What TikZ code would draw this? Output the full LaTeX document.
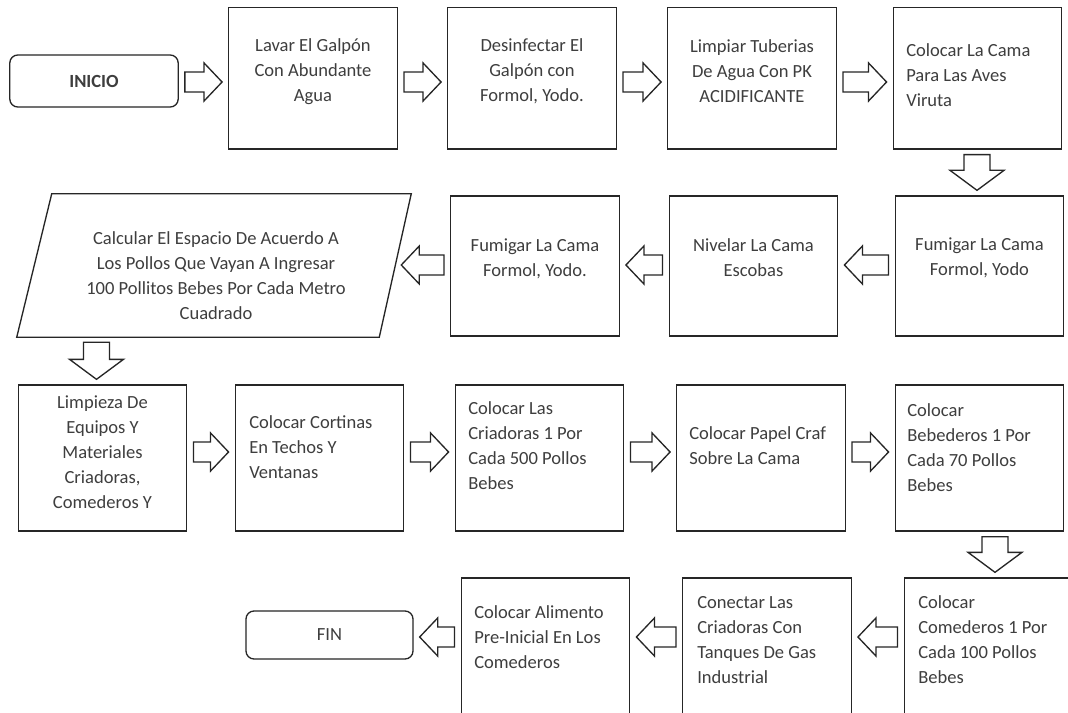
\documentclass[tikz,border=0pt]{standalone}
\usepackage{fontspec}
\setmainfont{Carlito}
\usetikzlibrary{calc}
\definecolor{ink}{RGB}{38,38,38}
\definecolor{txtc}{RGB}{62,62,62}
\newcommand\myfirst{\rule{0pt}{14pt}}
% right-pointing block arrow from node #1 to node #2 at row y #3
\newcommand\bxR[3]{\draw[blk] let \p1=($(#1.east)+(6,0)$), \p2=($(#2.west)+(-6,0)$), \p3=(0,#3) in
  (\x1,\y3+7.5pt) -- (\x2-13.5pt,\y3+7.5pt) -- (\x2-13.5pt,\y3+14.25pt) -- (\x2,\y3)
  -- (\x2-13.5pt,\y3-14.25pt) -- (\x2-13.5pt,\y3-7.5pt) -- (\x1,\y3-7.5pt) -- cycle;}
% left-pointing block arrow from node #1 (right) to node #2 (left)
\newcommand\bxL[3]{\draw[blk] let \p1=($(#1.west)+(-6,0)$), \p2=($(#2.east)+(6,0)$), \p3=(0,#3) in
  (\x1,\y3+7.5pt) -- (\x2+13.5pt,\y3+7.5pt) -- (\x2+13.5pt,\y3+14.25pt) -- (\x2,\y3)
  -- (\x2+13.5pt,\y3-14.25pt) -- (\x2+13.5pt,\y3-7.5pt) -- (\x1,\y3-7.5pt) -- cycle;}
% down-pointing block arrow from node #1 to node #2 at column x #3
\newcommand\bxD[3]{\draw[blk] let \p1=($(#1.south)+(0,5)$), \p2=($(#2.north)+(0,-5)$), \p3=(#3,0) in
  (\x3-9.75pt,\y1) -- (\x3-9.75pt,\y2+15pt) -- (\x3-20.25pt,\y2+15pt) -- (\x3,\y2)
  -- (\x3+20.25pt,\y2+15pt) -- (\x3+9.75pt,\y2+15pt) -- (\x3+9.75pt,\y1) -- cycle;}
\begin{document}
\begin{tikzpicture}[x=0.75pt,y=-0.75pt,
  box/.style={draw=ink,line width=1pt,fill=white,inner sep=0pt,minimum width=126.4pt},
  term/.style={draw=ink,line width=1pt,fill=white,rounded corners=6pt,inner sep=0pt,
    font=\fontsize{13.9}{18.75}\selectfont,text=txtc},
  blk/.style={draw=ink,line width=1pt,fill=white,line join=miter},
  ctext/.style={inner sep=0pt,anchor=north,align=center,text=txtc,font=\fontsize{13.9}{18.75}\selectfont},
  ltext/.style={inner sep=0pt,anchor=north west,align=left,text=txtc,font=\fontsize{13.9}{18.75}\selectfont},
  rowa/.style={minimum height=106pt},
  rowb/.style={minimum height=105pt},
  rowc/.style={minimum height=109.5pt},
  rowd/.style={minimum height=120pt}]
\useasboundingbox (0,0) rectangle (1068,713);
\fill[white] (0,0) rectangle (1068,713);
\clip (0,0) rectangle (1068,713);

% row 1
\node[term,minimum width=126.3pt,minimum height=39pt,font=\fontsize{13.9}{18.75}\selectfont\bfseries] (ini) at (94,81) {INICIO};
\node[box,rowa] (b1) at (313,78.3) {};
\node[box,rowa] (b2) at (532,78.3) {};
\node[box,rowa] (b3) at (752,78.3) {};
\node[box,rowa] (b4) at (977.5,78.3) {};
\node[ctext] (b1t) at (313,32.2) {\myfirst Lavar El Galpón\\Con Abundante\\Agua};
\node[ctext] (b2t) at (532,32.2) {\myfirst Desinfectar El\\Galpón con\\Formol, Yodo.};
\node[ctext] (b3t) at (752,33.2) {\myfirst Limpiar Tuberias\\De Agua Con PK\\ACIDIFICANTE};
\node[ltext] (b4t) at (906,37.2) {\myfirst Colocar La Cama\\Para Las Aves\\Viruta};

% row 2
\node[box,rowb] (r1) at (979.5,266) {};
\node[box,rowb] (r2) at (753.5,266) {};
\node[box,rowb] (r3) at (535,266) {};
\node[inner sep=0pt,minimum width=295.5pt,minimum height=107.25pt] (para) at (214,265.5) {};
\draw[ink,line width=1pt,fill=white] (para.south west) -- ($(para.south east)+(-32,0)$) -- (para.north east) -- ($(para.north west)+(35,0)$) -- cycle;
\coordinate (pr) at ($(para.east)+(-16,0)$);
\node[ctext] (r1t) at (979.5,231.2) {\myfirst Fumigar La Cama\\Formol, Yodo};
\node[ctext] (r2t) at (753.5,232.2) {\myfirst Nivelar La Cama\\Escobas};
\node[ctext] (r3t) at (535,232.2) {\myfirst Fumigar La Cama\\Formol, Yodo.};
\node[ctext] (parat) at (216,225.2) {\myfirst Calcular El Espacio De Acuerdo A\\Los Pollos Que Vayan A Ingresar\\100 Pollitos Bebes Por Cada Metro\\Cuadrado};

% row 3
\node[box,rowc] (c1) at (102.5,458) {};
\node[box,rowc] (c2) at (319.5,458) {};
\node[box,rowc] (c3) at (539.5,458) {};
\node[box,rowc] (c4) at (761,458) {};
\node[box,rowc] (c5) at (979.5,458) {};
\node[ctext] (c1t) at (102.5,389.2) {\myfirst Limpieza De\\Equipos Y\\Materiales\\Criadoras,\\Comederos Y};
\node[ltext] (c2t) at (249,409.2) {\myfirst Colocar Cortinas\\En Techos Y\\Ventanas};
\node[ltext] (c3t) at (468,395.2) {\myfirst Colocar Las\\Criadoras 1 Por\\Cada 500 Pollos\\Bebes};
\node[ltext] (c4t) at (689,420.2) {\myfirst Colocar Papel Craf\\Sobre La Cama};
\node[ltext] (c5t) at (907,397.2) {\myfirst Colocar\\Bebederos 1 Por\\Cada 70 Pollos\\Bebes};

% row 4
\node[box,rowd] (d1) at (988.5,658) {};
\node[box,rowd] (d2) at (767,658) {};
\node[box,rowd] (d3) at (545.5,658) {};
\node[term,minimum width=125.25pt,minimum height=36pt] (fin) at (329.5,635) {FIN};
\node[ltext] (d1t) at (918,589.2) {\myfirst Colocar\\Comederos 1 Por\\Cada 100 Pollos\\Bebes};
\node[ltext] (d2t) at (697,589.2) {\myfirst Conectar Las\\Criadoras Con\\Tanques De Gas\\Industrial};
\node[ltext] (d3t) at (474,599.2) {\myfirst Colocar Alimento\\Pre-Inicial En Los\\Comederos};

% connectors
\bxR{ini}{b1}{82}
\bxR{b1}{b2}{82}
\bxR{b2}{b3}{82}
\bxR{b3}{b4}{82}
\bxD{b4}{r1}{977}
\bxL{r1}{r2}{265}
\bxL{r2}{r3}{265}
\bxL{r3}{pr}{265}
\bxD{para}{c1}{96.5}
\bxR{c1}{c2}{452}
\bxR{c2}{c3}{452}
\bxR{c3}{c4}{452}
\bxR{c4}{c5}{452}
\bxD{c5}{d1}{995}
\bxL{d1}{d2}{637}
\bxL{d2}{d3}{637}
\bxL{d3}{fin}{637}
\end{tikzpicture}
\end{document}
